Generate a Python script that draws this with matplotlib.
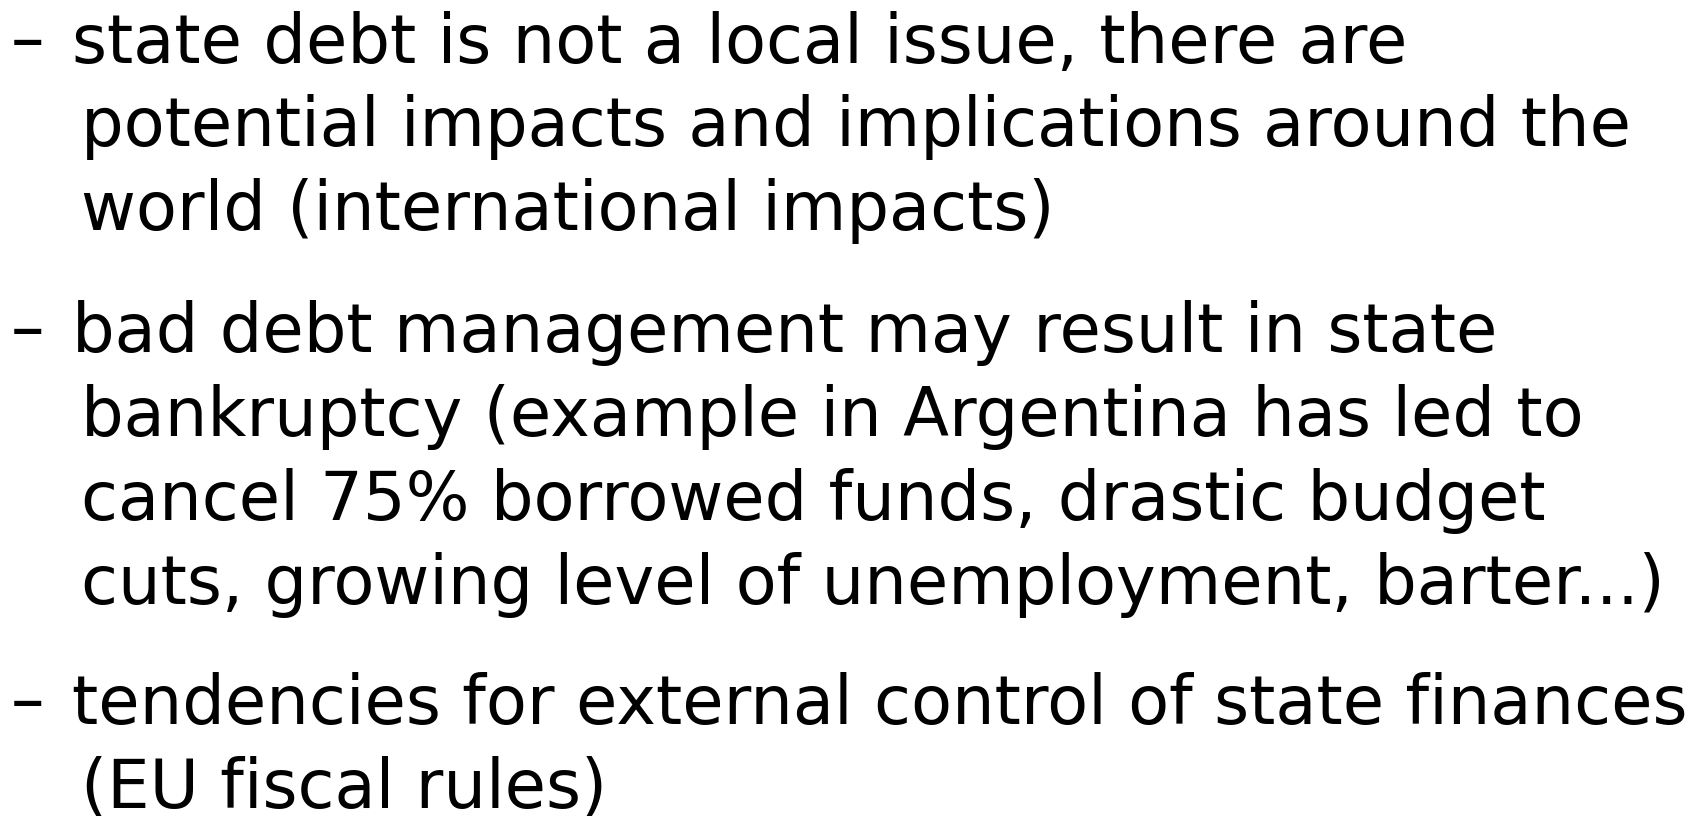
import matplotlib
matplotlib.use("Agg")
from matplotlib import pyplot as plt

W, H = 1701, 816

# slide bullets: each bullet is a list of wrapped lines
bullets = [
    ["state debt is not a local issue, there are",
     "potential impacts and implications around the",
     "world (international impacts)"],
    ["bad debt management may result in state",
     "bankruptcy (example in Argentina has led to",
     "cancel 75% borrowed funds, drastic budget",
     "cuts, growing level of unemployment, barter...)"],
    ["tendencies for external control of state finances",
     "(EU fiscal rules)"],
]
baselines = [[63, 146, 230], [352, 436, 520, 604], [724, 808]]

fig = plt.figure(figsize=(W / 100, H / 100), dpi=100)
fig.patch.set_facecolor("white")

fs = 48.3
for lines, ys in zip(bullets, baselines):
    # bullet dash, sits a bit higher than a normal en dash
    fig.text(11 / W, 1 - (ys[0] - 2) / H, "–", fontsize=fs, family="DejaVu Sans",
             va="baseline", ha="left")
    for i, (line, y) in enumerate(zip(lines, ys)):
        x = 72 if i == 0 else 81
        fig.text(x / W, 1 - y / H, line, fontsize=fs, family="DejaVu Sans",
                 va="baseline", ha="left")

fig.savefig("out.png", dpi=100, facecolor="white")
